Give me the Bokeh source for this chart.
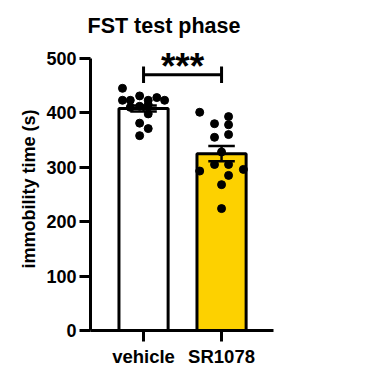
from bokeh.plotting import figure
from bokeh.models import FixedTicker, Range1d
from bokeh.core.properties import value
from bokeh.embed import file_html
from bokeh.resources import INLINE

groups = ["vehicle", "SR1078"]
group_pos = [1, 2]
means = [408, 325]
sems = [5.5, 14]
bar_colors = ["#FFFFFF", "#FDD100"]

vehicle_vals = [445, 431, 428, 423, 423, 423, 423, 410, 412, 415, 398, 381, 371, 358]
vehicle_jit = [-0.27, -0.05, 0.17, -0.27, -0.17, 0.06, 0.27, -0.17, -0.05, 0.06, 0.06, -0.05, 0.06, -0.05]
sr_vals = [401, 393, 380, 378, 355, 360, 328, 293, 305, 305, 296, 285, 268, 224]
sr_jit = [-0.28, 0.09, -0.09, 0.09, -0.09, 0.09, 0.0, -0.28, -0.09, 0.09, 0.28, 0.09, 0.0, 0.0]

y_ticks = [0, 100, 200, 300, 400, 500]
stars = "***"

FONT = "Liberation Sans"

p = figure(width=370, height=371, output_backend="svg", toolbar_location=None,
           x_range=Range1d(0.32, 2.666), y_range=Range1d(0, 520),
           min_border_left=90, min_border_right=97, min_border_top=47, min_border_bottom=41,
           title="FST test phase")
p.outline_line_color = None
p.grid.visible = False
p.background_fill_color = "white"
p.border_fill_color = "white"

p.title.text_font = FONT
p.title.text_font_size = "21.5px"
p.title.text_font_style = "bold"
p.title.align = "left"
p.title.offset = -3
p.title.standoff = 19
p.title.text_color = "black"

# bars
p.vbar(x=group_pos, top=means, width=0.63, bottom=0, fill_color=bar_colors,
       line_color="black", line_width=3)

# error bars
lo = [m - s for m, s in zip(means, sems)]
hi = [m + s for m, s in zip(means, sems)]
p.segment(x0=group_pos, y0=lo, x1=group_pos, y1=hi, line_color="black", line_width=2.5)
p.segment(x0=[g - 0.17 for g in group_pos], y0=hi, x1=[g + 0.17 for g in group_pos], y1=hi,
          line_color="black", line_width=2.5)
p.segment(x0=[g - 0.17 for g in group_pos], y0=lo, x1=[g + 0.17 for g in group_pos], y1=lo,
          line_color="black", line_width=2.5)

# points
p.scatter(x=[group_pos[0] + j for j in vehicle_jit], y=vehicle_vals, size=8,
          fill_color="black", line_color="black")
p.scatter(x=[group_pos[1] + j for j in sr_jit], y=sr_vals, size=8,
          fill_color="black", line_color="black")

# significance bracket
sig_y = 470
p.multi_line(xs=[[group_pos[0], group_pos[1]], [group_pos[0], group_pos[0]], [group_pos[1], group_pos[1]]],
             ys=[[sig_y, sig_y], [sig_y - 15, sig_y + 15], [sig_y - 15, sig_y + 15]],
             line_color="black", line_width=3)
p.text(x=[(group_pos[0] + group_pos[1]) / 2], y=[486], text=[stars], text_align="center",
       text_baseline="alphabetic", text_font=value(FONT), text_font_style="bold",
       text_font_size="37px", text_color="black")

# axes
for ax in (p.xaxis[0], p.yaxis[0]):
    ax.axis_line_width = 3
    ax.axis_line_color = "black"
    ax.major_tick_line_width = 3
    ax.major_tick_line_color = "black"
    ax.major_tick_in = 0
    ax.major_tick_out = 11
    ax.minor_tick_line_color = None
    ax.major_label_text_font = FONT
    ax.major_label_text_font_style = "bold"
    ax.major_label_text_color = "black"

p.yaxis.ticker = FixedTicker(ticks=y_ticks)
p.yaxis.bounds = (0, 500)
p.yaxis.major_label_text_font_size = "18px"
p.yaxis.major_label_standoff = 3
p.yaxis.axis_label = "immobility time (s)"
p.yaxis.axis_label_text_font = FONT
p.yaxis.axis_label_text_font_size = "18px"
p.yaxis.axis_label_text_font_style = "bold"
p.yaxis.axis_label_standoff = 4
p.yaxis.axis_label_text_color = "black"

p.xaxis.ticker = FixedTicker(ticks=group_pos)
p.xaxis.major_label_overrides = {g: n for g, n in zip(group_pos, groups)}
p.xaxis.major_label_text_font_size = "18.5px"
p.xaxis.major_label_standoff = 4

open("out.html", "w").write(file_html(p, INLINE))
